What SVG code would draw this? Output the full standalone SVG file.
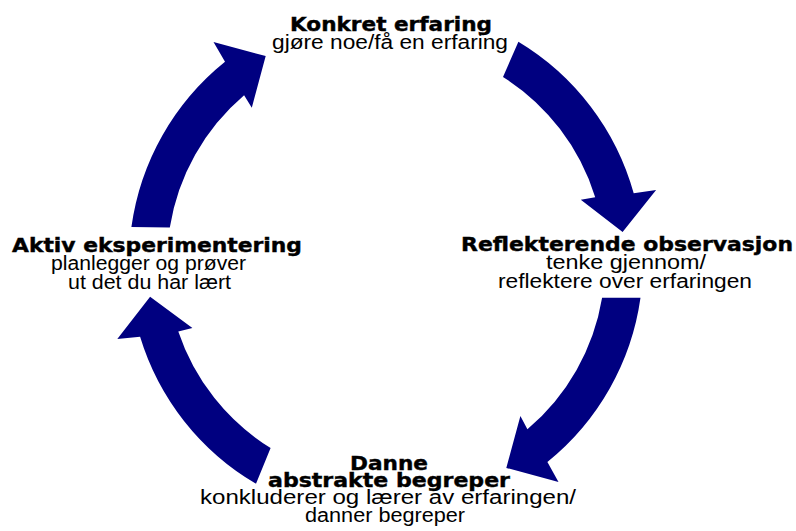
<svg xmlns="http://www.w3.org/2000/svg" width="796" height="531" viewBox="0 0 796 531">
<style>
.arrow{fill:#000080;stroke:none}
.t{font-family:"DejaVu Sans","Liberation Sans",sans-serif;font-weight:bold;font-size:19px;fill:#000;stroke:#000;stroke-width:0.4}
.s{font-family:"Liberation Sans",Arial,sans-serif;font-size:19.5px;fill:#000}
</style>
<rect width="796" height="531" fill="#fff"/>
<g id="connectors">
<path class="arrow" d="M131.4,227.1 A257,257 0 0 1 225.0,61.7 L213.5,42.1 L265.7,56.1 L251.8,107.7 L244.1,95.2 A219,219 0 0 0 169.8,227.4 Z"/>
<path class="arrow" d="M518.4,41.7 A257,257 0 0 1 633.7,193.3 L656.1,190.1 L622.6,232.1 L580.8,199.8 L595.2,197.2 A219,219 0 0 0 503.0,76.9 Z"/>
<path class="arrow" d="M640.5,297.8 A257,257 0 0 1 547.4,462.0 L558.5,481.9 L506.3,467.9 L520.4,416.1 L527.4,429.3 A219,219 0 0 0 602.1,297.8 Z"/>
<path class="arrow" d="M256.0,483.7 A257,257 0 0 1 140.1,336.7 L117.3,339.0 L150.1,296.8 L192.4,327.9 L178.3,331.5 A219,219 0 0 0 270.6,448.1 Z"/>
</g>
<g id="node-konkret">
<text class="t" x="290" y="31" textLength="202" lengthAdjust="spacingAndGlyphs">Konkret erfaring</text>
<text class="s" x="272" y="49" textLength="236" lengthAdjust="spacingAndGlyphs">gjøre noe/få en erfaring</text>
</g>
<g id="node-reflekterende">
<text class="t" x="461" y="251" textLength="332" lengthAdjust="spacingAndGlyphs">Reflekterende observasjon</text>
<text class="s" x="546" y="269" textLength="160" lengthAdjust="spacingAndGlyphs">tenke gjennom/</text>
<text class="s" x="498" y="288" textLength="254" lengthAdjust="spacingAndGlyphs">reflektere over erfaringen</text>
</g>
<g id="node-abstrakte">
<text class="t" x="350" y="470" textLength="78" lengthAdjust="spacingAndGlyphs">Danne</text>
<text class="t" x="268" y="487" textLength="242" lengthAdjust="spacingAndGlyphs">abstrakte begreper</text>
<text class="s" x="200" y="504" textLength="376" lengthAdjust="spacingAndGlyphs">konkluderer og lærer av erfaringen/</text>
<text class="s" x="305" y="522" textLength="160" lengthAdjust="spacingAndGlyphs">danner begreper</text>
</g>
<g id="node-aktiv">
<text class="t" x="12" y="252" textLength="290" lengthAdjust="spacingAndGlyphs">Aktiv eksperimentering</text>
<text class="s" x="51" y="270" textLength="195" lengthAdjust="spacingAndGlyphs">planlegger og prøver</text>
<text class="s" x="68" y="289" textLength="163" lengthAdjust="spacingAndGlyphs">ut det du har lært</text>
</g>
</svg>
